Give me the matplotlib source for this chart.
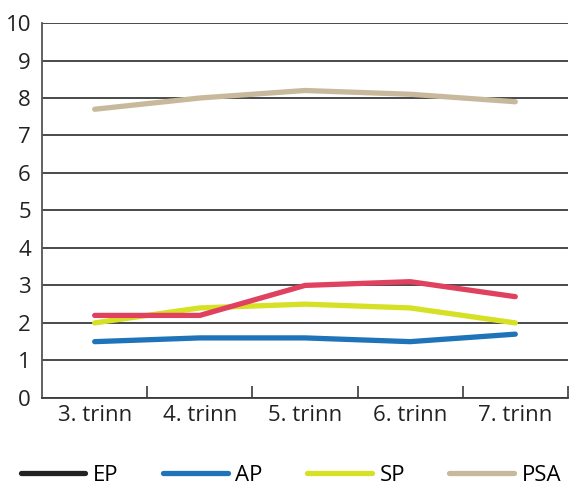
import matplotlib.pyplot as plt
from matplotlib.lines import Line2D

plt.rcParams['font.family'] = ['Open Sans', 'DejaVu Sans']

# data
trinn = ['3. trinn', '4. trinn', '5. trinn', '6. trinn', '7. trinn']
ep = [2.2, 2.2, 3.0, 3.1, 2.7]
ap = [1.5, 1.6, 1.6, 1.5, 1.7]
sp = [2.0, 2.4, 2.5, 2.4, 2.0]
psa = [7.7, 8.0, 8.2, 8.1, 7.9]

fig = plt.figure(figsize=(5.69, 4.9), dpi=100)
ax = fig.add_axes([0.074, 0.188, 0.924, 0.765])

x = range(len(trinn))
lw = 3.8
ax.plot(x, psa, color='#c9b99c', lw=lw, solid_capstyle='round', zorder=3)
ax.plot(x, ap, color='#1f74b9', lw=lw, solid_capstyle='round', zorder=3)
ax.plot(x, sp, color='#d6e024', lw=lw, solid_capstyle='round', zorder=3)
ax.plot(x, ep, color='#e0415f', lw=lw, solid_capstyle='round', zorder=4)

ax.set_xlim(-0.5, len(trinn) - 0.5)
ax.set_ylim(0, 10)
ax.set_yticks(range(0, 11))
ax.yaxis.grid(True, color='#3c3c3c', lw=1.3)
ax.set_axisbelow(True)

ax.set_xticks(list(x))
ax.set_xticklabels(trinn)
ax.set_xticks([i + 0.5 for i in range(len(trinn))], minor=True)
ax.tick_params(axis='x', which='major', length=0, labelsize=16, colors='#222222', pad=5)
ax.tick_params(axis='x', which='minor', direction='in', length=9, width=1.2, color='#3c3c3c')
ax.tick_params(axis='y', length=0, labelsize=16, colors='#222222', pad=8)

for s in ['top', 'right']:
    ax.spines[s].set_visible(False)
ax.spines['left'].set_color('#555555')
ax.spines['left'].set_linewidth(1.3)
ax.spines['bottom'].set_color('#3c3c3c')
ax.spines['bottom'].set_linewidth(1.3)

handles = [
    Line2D([], [], color='#222222', lw=lw, solid_capstyle='round'),
    Line2D([], [], color='#1f74b9', lw=lw, solid_capstyle='round'),
    Line2D([], [], color='#d6e024', lw=lw, solid_capstyle='round'),
    Line2D([], [], color='#c9b99c', lw=lw, solid_capstyle='round'),
]
fig.legend(handles, ['EP', 'AP', 'SP', 'PSA'], loc='center left', bbox_to_anchor=(0.037, 0.03),
           ncol=4, frameon=False, fontsize=16, handlelength=2.9, handletextpad=0.35,
           columnspacing=2.0, borderpad=0, borderaxespad=0)

fig.savefig('out.png', dpi=100)
